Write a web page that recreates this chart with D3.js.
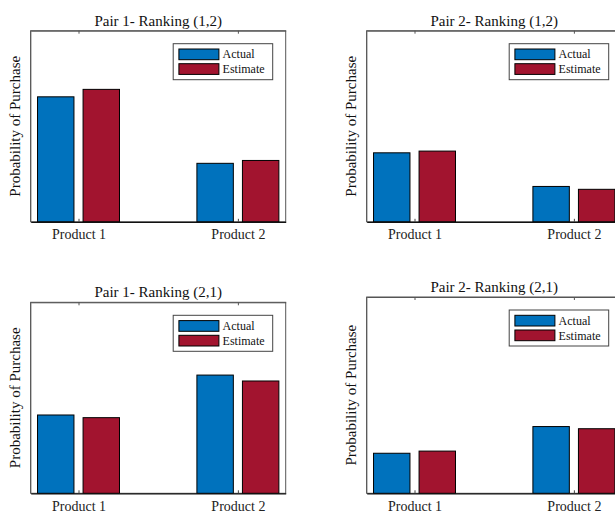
<!DOCTYPE html>
<html>
<head>
<meta charset="utf-8">
<script src="https://cdn.jsdelivr.net/npm/d3@7"></script>
<style>
  html, body { margin: 0; padding: 0; background: #fff; overflow: hidden; }
  svg { display: block; font-family: "Liberation Serif", "Times New Roman", serif; }
</style>
</head>
<body>
<svg id="chart" width="615" height="512"></svg>
<script>
// ---- data ----
const categories = ["Product 1", "Product 2"];
const seriesNames = ["Actual", "Estimate"];
const yLabel = "Probability of Purchase";

const titles = [
  "Pair 1- Ranking (1,2)",
  "Pair 2- Ranking (1,2)",
  "Pair 1- Ranking (2,1)",
  "Pair 2- Ranking (2,1)"
];

const pair1Rank12Actual   = [0.654, 0.306];
const pair1Rank12Estimate = [0.693, 0.321];
const pair2Rank12Actual   = [0.361, 0.185];
const pair2Rank12Estimate = [0.370, 0.170];
const pair1Rank21Actual   = [0.410, 0.619];
const pair1Rank21Estimate = [0.396, 0.588];
const pair2Rank21Actual   = [0.204, 0.340];
const pair2Rank21Estimate = [0.215, 0.329];

const seriesColors = ["#0072BD", "#A2142F"];

// ---- layout ----
const panels = [
  { title: titles[0], actual: pair1Rank12Actual, estimate: pair1Rank12Estimate, left: 30.7, top: 30.7, bottom: 221.8 },
  { title: titles[1], actual: pair2Rank12Actual, estimate: pair2Rank12Estimate, left: 366.7, top: 30.7, bottom: 221.8 },
  { title: titles[2], actual: pair1Rank21Actual, estimate: pair1Rank21Estimate, left: 30.7, top: 302.3, bottom: 493.3 },
  { title: titles[3], actual: pair2Rank21Actual, estimate: pair2Rank21Estimate, left: 366.7, top: 297.0, bottom: 493.3 }
];
const axW = 255;

const svg = d3.select("#chart");

// MATLAB grouped bar geometry
const nSeries = seriesNames.length;
const groupWidth = Math.min(0.8, nSeries / (nSeries + 1.5));
const barW = 0.8 * groupWidth / nSeries;
const offsets = seriesNames.map((_, i) => (i - (nSeries - 1) / 2) * groupWidth / nSeries);

panels.forEach(p => {
  const g = svg.append("g");
  const x = d3.scaleLinear().domain([0.7, 2.3]).range([p.left, p.left + axW]);
  const y = d3.scaleLinear().domain([0, 1]).range([p.bottom, p.top]);

  const data = [];
  categories.forEach((c, ci) => {
    [p.actual, p.estimate].forEach((vals, si) => {
      data.push({ cat: ci + 1, series: si, value: vals[ci] });
    });
  });

  // box (top/right)
  g.append("rect")
    .attr("x", x(0.7)).attr("y", y(1))
    .attr("width", x(2.3) - x(0.7)).attr("height", y(0) - y(1))
    .attr("fill", "none").attr("stroke", "#555").attr("stroke-width", 1);

  // bars
  g.selectAll("rect.bar").data(data).enter().append("rect")
    .attr("class", "bar")
    .attr("x", d => x(d.cat + offsets[d.series] - barW / 2))
    .attr("width", d => x(d.cat + offsets[d.series] + barW / 2) - x(d.cat + offsets[d.series] - barW / 2))
    .attr("y", d => y(d.value))
    .attr("height", d => y(0) - y(d.value))
    .attr("fill", d => seriesColors[d.series])
    .attr("stroke", "#000").attr("stroke-width", 1);

  // bottom axis (ticks inward, MATLAB-style)
  const xAxis = d3.axisBottom(x).tickValues([1, 2]).tickFormat(d => categories[d - 1])
    .tickSizeInner(-3).tickSizeOuter(0).tickPadding(7.5);
  const ax = g.append("g").attr("transform", `translate(0,${y(0)})`).call(xAxis);
  ax.attr("font-size", 14).attr("font-family", "Liberation Serif, Times New Roman, serif");
  ax.select(".domain").attr("stroke", "#111").attr("stroke-width", 1.2);
  ax.selectAll(".tick line").attr("stroke", "#444");
  ax.selectAll(".tick text").attr("font-size", 14).attr("fill", "#222");

  // top ticks
  const topAxis = d3.axisTop(x).tickValues([1, 2]).tickFormat("").tickSizeInner(-3).tickSizeOuter(0);
  const tax = g.append("g").attr("transform", `translate(0,${y(1)})`).call(topAxis);
  tax.select(".domain").attr("stroke", "#555");
  tax.selectAll(".tick line").attr("stroke", "#555");

  // left axis line
  g.append("line")
    .attr("x1", x(0.7)).attr("x2", x(0.7))
    .attr("y1", y(0)).attr("y2", y(1))
    .attr("stroke", "#555").attr("stroke-width", 1);

  // title
  g.append("text")
    .attr("x", (x(0.7) + x(2.3)) / 2).attr("y", p.top - 5)
    .attr("text-anchor", "middle").attr("font-size", 15).attr("fill", "#111")
    .text(p.title);

  // y label
  g.append("text")
    .attr("transform", `translate(${p.left - 10.5},${(p.top + p.bottom) / 2}) rotate(-90)`)
    .attr("text-anchor", "middle").attr("font-size", 15).attr("fill", "#111")
    .text(yLabel);

  // legend
  const lgW = 99.5, lgH = 36;
  const lgX = x(2.3) - 13 - lgW;
  const lgY = p.top + 13;
  const lg = g.append("g").attr("transform", `translate(${lgX},${lgY})`);
  lg.append("rect").attr("width", lgW).attr("height", lgH)
    .attr("fill", "#fff").attr("stroke", "#444").attr("stroke-width", 1);
  seriesNames.forEach((s, i) => {
    lg.append("rect")
      .attr("x", 5.7).attr("y", 5.3 + i * 14.7)
      .attr("width", 40).attr("height", 10.7)
      .attr("fill", seriesColors[i]).attr("stroke", "#000").attr("stroke-width", 1);
    lg.append("text")
      .attr("x", 49.4).attr("y", 14.8 + i * 14.7)
      .attr("font-size", 12).attr("fill", "#111")
      .text(s);
  });
});
</script>
</body>
</html>
